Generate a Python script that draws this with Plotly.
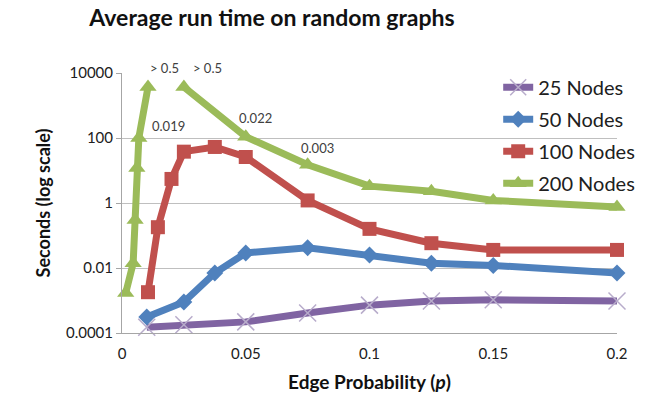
import math
import plotly.graph_objects as go

# ---- data ----
x25 = [0.01, 0.025, 0.05, 0.075, 0.1, 0.125, 0.15, 0.2]
y25 = [0.00015, 0.00018, 0.00022, 0.00041, 0.00072, 0.00096, 0.00105, 0.00096]

x50 = [0.01, 0.025, 0.0375, 0.05, 0.075, 0.1, 0.125, 0.15, 0.2]
y50 = [0.00031, 0.0009, 0.007, 0.029, 0.042, 0.025, 0.014, 0.012, 0.007]

x100 = [0.0105, 0.0145, 0.02, 0.025, 0.0375, 0.05, 0.075, 0.1, 0.125, 0.15, 0.2]
y100 = [0.0018, 0.18, 5.5, 38, 53, 26, 1.2, 0.16, 0.058, 0.036, 0.036]

x200 = [0.0015, 0.0045, 0.0053, 0.006, 0.0068, 0.0105, None, 0.025, 0.05, 0.075, 0.1, 0.125, 0.15, 0.2]
y200 = [0.0017, 0.014, 0.3, 12, 100, 3700, None, 3700, 110, 15, 3.3, 2.3, 1.2, 0.75]

names = ["25 Nodes", "50 Nodes", "100 Nodes", "200 Nodes"]
colors = ["#8064A2", "#4F81BD", "#C0504D", "#9BBB59"]

note_x = [0.017, 0.0347, 0.0188, 0.054, 0.079]
note_y = [10000, 10000, 240, 400, 50]
note_shift = [5, 5, 0, 0, 0]
note_t = ["> 0.5", "> 0.5", "0.019", "0.022", "0.003"]

xticks = [0, 0.05, 0.1, 0.15, 0.2]
xticklabels = ["0", "0.05", "0.1", "0.15", "0.2"]
yticks = [0.0001, 0.01, 1, 100, 10000]
yticklabels = ["0.0001", "0.01", "1", "100", "10000"]

FONT = "Lato"

fig = go.Figure()
series = [
    (x25, y25, dict(symbol="x-thin", size=17, color="#B8ACCB", line=dict(width=1.5, color="#B8ACCB"))),
    (x50, y50, dict(symbol="diamond", size=13, color=colors[1])),
    (x100, y100, dict(symbol="square", size=14, color=colors[2])),
    (x200, y200, dict(symbol="triangle-up", size=15, color=colors[3])),
]
for i, (xs, ys, mk) in enumerate(series):
    fig.add_trace(go.Scatter(
        x=xs, y=ys, mode="lines+markers", name=names[i],
        line=dict(color=colors[i], width=7),
        marker=mk, connectgaps=False, cliponaxis=False,
        legendgroup=names[i],
    ))

for xv, yv, t, sh in zip(note_x, note_y, note_t, note_shift):
    fig.add_annotation(x=xv, y=math.log10(yv), text=t, showarrow=False, yshift=sh,
                       font=dict(family=FONT, size=13, color="#404040"))

# small tick marks on the horizontal axis crossing at y=1
for xv in xticks[1:]:
    fig.add_shape(type="line", xref="x", yref="y", x0=xv, x1=xv,
                  ysizemode="pixel", yanchor=0, y0=0, y1=-5,
                  line=dict(color="#A6A6A6", width=1))

fig.update_layout(
    width=648, height=403,
    margin=dict(l=122, r=31, t=73, b=70, autoexpand=False),
    paper_bgcolor="white", plot_bgcolor="white",
    font=dict(family=FONT, color="#202020"),
    title=dict(text="<b>Average run time on random graphs</b>", x=272/648, xanchor="center",
               xref="container", y=1-18/403, yanchor="middle", yref="container",
               font=dict(family=FONT, size=23, color="#111111")),
    legend=dict(x=0.76, y=1.02, xanchor="left", yanchor="top", bgcolor="rgba(0,0,0,0)",
                font=dict(family=FONT, size=20, color="#202020"), tracegroupgap=3,
                itemwidth=30),
    showlegend=True,
)
fig.update_xaxes(range=[0, 0.2], tickvals=xticks, ticktext=xticklabels, showgrid=False,
                 showline=True, linecolor="#A6A6A6", linewidth=1, ticks="", zeroline=False,
                 ticklabelstandoff=7,
                 tickfont=dict(family=FONT, size=15, color="#202020"),
                 title=dict(text="<b>Edge Probability (<i>p</i>)</b>", standoff=14,
                            font=dict(family=FONT, size=19, color="#111111")))
fig.update_yaxes(type="log", range=[-4, 4], tickvals=yticks, ticktext=yticklabels,
                 showgrid=True, gridcolor="#BFBFBF", gridwidth=1,
                 showline=True, linecolor="#A6A6A6", linewidth=1, ticks="outside",
                 ticklen=5, tickcolor="#A6A6A6",
                 tickfont=dict(family=FONT, size=15, color="#202020"),
                 title=dict(text="<b>Seconds (log scale)</b>", standoff=10,
                            font=dict(family=FONT, size=18, color="#111111")))

fig.write_html("out.html")
